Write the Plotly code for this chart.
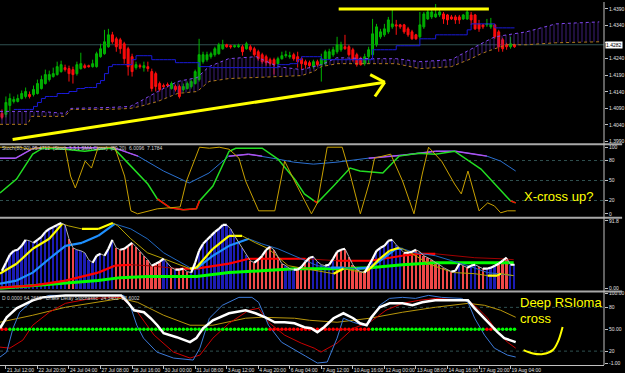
import plotly.graph_objects as go

# ---------------- DATA ----------------
opens = [1.4075,1.4072,1.4099,1.4111,1.4111,1.4120,1.4126,1.4132,1.4132,1.4135,
1.4150,1.4165,1.4177,1.4186,1.4192,1.4201,1.4213,1.4210,1.4207,1.4195,
1.4210,1.4219,1.4219,1.4216,1.4216,1.4246,1.4255,1.4276,1.4312,1.4300,
1.4297,1.4285,1.4270,1.4246,1.4213,1.4219,1.4213,1.4216,1.4201,1.4195,
1.4165,1.4159,1.4162,1.4150,1.4156,1.4156,1.4147,1.4150,1.4156,1.4165,
1.4177,1.4231,1.4237,1.4246,1.4252,1.4255,1.4270,1.4282,1.4279,1.4276,
1.4276,1.4276,1.4270,1.4276,1.4270,1.4261,1.4252,1.4246,1.4237,1.4237,
1.4225,1.4240,1.4249,1.4246,1.4252,1.4246,1.4240,1.4231,1.4228,1.4216,
1.4231,1.4222,1.4225,1.4240,1.4252,1.4261,1.4267,1.4276,1.4276,1.4267,
1.4252,1.4240,1.4225,1.4246,1.4252,1.4282,1.4306,1.4312,1.4321,1.4336,
1.4342,1.4342,1.4342,1.4330,1.4321,1.4312,1.4306,1.4336,1.4360,1.4366,
1.4366,1.4372,1.4375,1.4372,1.4366,1.4366,1.4366,1.4360,1.4360,1.4372,
1.4372,1.4345,1.4342,1.4342,1.4336,1.4342,1.4321,1.4297,1.4282,1.4276,
1.4282]
highs = [1.4087,1.4126,1.4135,1.4126,1.4132,1.4144,1.4153,1.4141,1.4159,1.4177,
1.4189,1.4207,1.4204,1.4213,1.4231,1.4234,1.4222,1.4219,1.4216,1.4231,
1.4258,1.4225,1.4222,1.4237,1.4261,1.4285,1.4327,1.4330,1.4321,1.4306,
1.4303,1.4291,1.4276,1.4255,1.4231,1.4225,1.4231,1.4231,1.4210,1.4201,
1.4171,1.4165,1.4168,1.4171,1.4162,1.4162,1.4165,1.4171,1.4177,1.4207,
1.4300,1.4261,1.4261,1.4261,1.4276,1.4288,1.4297,1.4285,1.4282,1.4282,
1.4285,1.4282,1.4291,1.4282,1.4276,1.4267,1.4258,1.4252,1.4243,1.4243,
1.4246,1.4261,1.4264,1.4261,1.4258,1.4261,1.4246,1.4237,1.4234,1.4237,
1.4237,1.4255,1.4267,1.4270,1.4276,1.4306,1.4291,1.4312,1.4282,1.4273,
1.4258,1.4246,1.4255,1.4276,1.4360,1.4345,1.4330,1.4345,1.4366,1.4387,
1.4357,1.4345,1.4345,1.4336,1.4327,1.4315,1.4381,1.4381,1.4387,1.4387,
1.4405,1.4387,1.4381,1.4375,1.4372,1.4372,1.4372,1.4375,1.4387,1.4381,
1.4375,1.4357,1.4345,1.4360,1.4363,1.4345,1.4327,1.4303,1.4288,1.4306,
1.4285]
lows = [1.4057,1.4063,1.4081,1.4105,1.4108,1.4117,1.4120,1.4120,1.4126,1.4132,
1.4147,1.4162,1.4171,1.4183,1.4189,1.4198,1.4201,1.4171,1.4165,1.4189,
1.4207,1.4210,1.4213,1.4213,1.4213,1.4243,1.4252,1.4273,1.4285,1.4261,
1.4255,1.4225,1.4189,1.4186,1.4207,1.4210,1.4201,1.4201,1.4141,1.4141,
1.4141,1.4150,1.4153,1.4147,1.4141,1.4120,1.4141,1.4147,1.4150,1.4162,
1.4171,1.4225,1.4231,1.4240,1.4246,1.4252,1.4267,1.4273,1.4270,1.4273,
1.4273,1.4249,1.4267,1.4261,1.4246,1.4234,1.4225,1.4219,1.4219,1.4192,
1.4219,1.4237,1.4243,1.4240,1.4234,1.4213,1.4207,1.4210,1.4213,1.4210,
1.4216,1.4171,1.4219,1.4237,1.4246,1.4255,1.4261,1.4267,1.4246,1.4231,
1.4216,1.4219,1.4219,1.4225,1.4246,1.4276,1.4300,1.4306,1.4315,1.4330,
1.4312,1.4330,1.4315,1.4306,1.4297,1.4297,1.4300,1.4330,1.4357,1.4360,
1.4363,1.4366,1.4345,1.4342,1.4357,1.4345,1.4345,1.4357,1.4357,1.4342,
1.4327,1.4321,1.4330,1.4336,1.4330,1.4300,1.4261,1.4261,1.4267,1.4270,
1.4273]
closes = [1.4063,1.4108,1.4120,1.4117,1.4120,1.4135,1.4141,1.4126,1.4147,1.4165,
1.4177,1.4192,1.4192,1.4195,1.4216,1.4222,1.4207,1.4195,1.4192,1.4222,
1.4225,1.4213,1.4216,1.4225,1.4255,1.4270,1.4291,1.4312,1.4291,1.4276,
1.4270,1.4240,1.4216,1.4201,1.4222,1.4216,1.4219,1.4210,1.4150,1.4156,
1.4147,1.4156,1.4159,1.4165,1.4147,1.4126,1.4156,1.4165,1.4171,1.4201,
1.4252,1.4252,1.4252,1.4255,1.4270,1.4282,1.4282,1.4276,1.4276,1.4279,
1.4279,1.4261,1.4285,1.4267,1.4252,1.4240,1.4231,1.4228,1.4225,1.4222,
1.4240,1.4249,1.4252,1.4249,1.4240,1.4231,1.4225,1.4222,1.4219,1.4231,
1.4222,1.4240,1.4261,1.4261,1.4267,1.4282,1.4282,1.4270,1.4252,1.4237,
1.4222,1.4222,1.4246,1.4267,1.4315,1.4336,1.4321,1.4330,1.4357,1.4345,
1.4339,1.4336,1.4321,1.4312,1.4300,1.4300,1.4342,1.4375,1.4381,1.4381,
1.4375,1.4381,1.4360,1.4357,1.4360,1.4357,1.4357,1.4372,1.4381,1.4357,
1.4330,1.4330,1.4336,1.4345,1.4345,1.4306,1.4276,1.4270,1.4276,1.4285,
1.4276]
kijun = [None,None,None,1.4087,1.4087,1.4087,1.4087,1.4087,1.4096,1.4108,
1.4120,1.4126,1.4126,1.4126,1.4135,1.4135,1.4135,1.4141,1.4141,1.4150,
1.4150,1.4153,1.4153,1.4153,1.4165,1.4174,1.4195,1.4216,1.4222,1.4222,
1.4222,1.4222,1.4222,1.4237,1.4249,1.4249,1.4249,1.4249,1.4237,1.4237,
1.4237,1.4237,1.4237,1.4237,1.4228,1.4228,1.4228,1.4228,1.4228,1.4228,
1.4216,1.4216,1.4216,1.4213,1.4213,1.4213,1.4213,1.4213,1.4213,1.4213,
1.4213,1.4213,1.4213,1.4213,1.4213,1.4213,1.4213,1.4213,1.4213,1.4213,
1.4222,1.4222,1.4222,1.4225,1.4225,1.4237,1.4246,1.4246,1.4246,1.4246,
1.4246,1.4237,1.4237,1.4237,1.4237,1.4237,1.4237,1.4237,1.4237,1.4237,
1.4237,1.4237,1.4237,1.4237,1.4267,1.4267,1.4267,1.4267,1.4267,1.4267,
1.4279,1.4279,1.4279,1.4279,1.4279,1.4279,1.4300,1.4300,1.4300,1.4300,
1.4312,1.4312,1.4312,1.4312,1.4312,1.4312,1.4312,1.4312,1.4327,1.4345,
1.4345,1.4345,1.4345,1.4345,1.4345,1.4333,1.4333,1.4333,1.4333,1.4333,
1.4333]
current_price = 1.4282

cloud_x = [-0.5,3,6.5,7.5,9.5,16,17.5,27.5,32.5,35,39.5,44.5,49.5,52.5,57.5,64.5,
           70,76,79,81,85,93.5,100,106,114,119,121.5,125,128,133,140.5,151.5]
senkou_a = [1.4081,1.4081,1.4081,1.4081,1.4081,1.4075,1.4090,1.4093,1.4096,1.4111,
            1.4141,1.4171,1.4183,1.4216,1.4240,1.4246,1.4216,1.4207,1.4216,1.4222,
            1.4243,1.4240,1.4240,1.4231,1.4237,1.4270,1.4285,1.4306,1.4312,1.4321,
            1.4345,1.4351]
senkou_b = [1.4042,1.4042,1.4042,1.4066,1.4066,1.4066,1.4087,1.4087,1.4090,1.4096,
            1.4111,1.4135,1.4141,1.4171,1.4180,1.4183,1.4186,1.4189,1.4201,1.4216,
            1.4225,1.4225,1.4225,1.4210,1.4216,1.4240,1.4255,1.4270,1.4282,1.4282,
            1.4288,1.4291]
price_ticks = [1.4390,1.4340,1.4290,1.4240,1.4190,1.4140,1.4090,1.4040,1.3990]

date_ticks = [1,9,17,25,33,41,49,57,65,73,81,89,97,105,113,121,129]
date_labels = ["21 Jul 12:00","22 Jul 20:00","24 Jul 04:00","27 Jul 08:00","28 Jul 16:00",
               "30 Jul 00:00","31 Jul 08:00","3 Aug 12:00","4 Aug 20:00","6 Aug 04:00",
               "7 Aug 12:00","10 Aug 16:00","12 Aug 00:00","13 Aug 08:00","14 Aug 16:00",
               "17 Aug 20:00","19 Aug 04:00"]

# panel 2 (stochastic)
slow_x = [-0.5,3.5,8,12,28.5,34.5,41,47.5,52.5,57.5,62.5,66,70,74,79,85,93,101.5,110,115,120,123,126.5,130.3]
slow_v = [83.6,83.6,98.5,99.0,99.0,86.6,64.2,46.3,61.2,86.6,89.6,86.6,82.1,77.6,74.6,77.6,83.6,88.1,94.0,94.0,89.6,86.6,79.1,64.2]
fast_x = [-0.5,3.7,7.8,10.3,16,21,27,28.6,32.7,37,39.4,42.7,46,49.3,50.1,53.5,57.6,59.3,66,70,74.2,
          76.7,79.2,80,84.1,88.3,90.8,96.6,100.7,105.7,109.9,114.8,121.5,126.5,129,130.3]
fast_v = [31.3,52.2,89.6,98.5,97.0,94.0,98.5,97.0,71.6,44.8,22.4,9.0,6.0,7.5,19.4,41.8,94.0,98.5,98.5,82.1,52.2,
          29.9,19.4,16.4,41.8,68.7,64.2,61.2,86.6,91.0,89.6,94.0,67.2,34.3,19.4,16.4]
stoch_x = [-0.5,4.5,7,10.3,16,17.4,18.6,21.1,22.7,24.4,28.6,31.1,32.7,34.4,39.4,42.7,45.2,46.8,50.1,52.6,
           55.1,57.6,60.1,61.8,65.1,69.2,71.7,74.2,77.6,78.5,80,82.5,86.3,88.3,90.9,93.3,94.5,98.6,101.6,104.5,
           106.6,108.2,111.5,114.8,116.5,118.2,121,123.2,124.9,126.5,128.2,130.3]
stoch_v = [100,100,97.0,100,100,56.7,38.8,79.1,68.7,100,100,56.7,4.5,0,7.5,9.0,10.4,49.3,100,98.5,
           100,97.0,83.6,49.3,4.5,4.5,79.1,49.3,9.0,0,16.4,100,100,59.7,0,49.3,83.6,89.6,49.3,0,
           59.7,100,79.1,44.8,29.9,64.2,4.5,16.4,11.9,1.5,4.5,4.5]
p2_levels = [80, 50, 20]

# panel 3 (histogram + averages)
hist3 = [24.2,35.0,45.8,51.2,52.5,57.9,66.0,64.7,62.0,66.0,
70.0,76.8,80.8,83.5,86.2,88.9,86.2,67.4,55.2,52.5,
51.2,48.5,39.1,35.0,44.5,47.1,44.5,53.9,66.0,55.2,
52.5,53.9,57.9,62.0,56.6,49.8,44.5,39.1,31.0,33.7,
36.4,40.4,35.0,28.3,25.6,25.6,26.9,22.9,21.6,35.0,
51.2,60.6,66.0,71.4,76.8,80.8,86.2,86.2,80.8,71.4,
63.3,55.2,45.8,37.7,35.0,39.1,44.5,52.5,56.6,52.5,
43.1,33.7,31.0,26.9,25.6,25.6,29.6,36.4,41.8,43.1,
36.4,32.3,31.0,32.3,40.4,49.8,52.5,53.9,43.1,32.3,
25.6,22.9,21.6,31.0,40.4,51.2,55.2,57.9,64.7,66.0,
59.3,53.9,48.5,48.5,49.8,52.5,49.8,44.5,41.8,39.1,
35.0,32.3,28.3,25.6,22.9,24.2,33.7,31.0,28.3,31.0,
32.3,29.6,26.9,26.9,28.3,31.0,33.7,37.7,41.8,32.3,
32.3]
hist_runs = [("b",17),("r",2),("b",10),("r",12),("b",2),("r",1),("b",1),("r",3),("b",15),("r",9),
             ("b",3),("r",4),("b",6),("r",9),("b",8),("r",13),("b",2),("r",2),("b",2),("r",2),
             ("b",3),("r",3),("b",2)]
yel3_x = [-0.5,3.7,7.8,12,15.3,16.9,20.3,24.4,28.1,29.4,32.7,36.9,41,47.7,49.3,53.5,57.6,60.9,64.3,67.6,
          72.6,76.7,79.2,81.7,84.1,86.6,89.1,91.6,93.3,95.8,98.3,100.7,101.6,104.9,108.2,111.5,114.8,119.8,
          123.2,125.6,126.5,129.8]
yel3_v = [20.2,33.7,53.9,67.4,87.6,84.9,80.8,80.8,88.9,84.9,67.4,48.5,40.4,26.9,28.3,53.9,71.4,71.4,62.0,53.9,
          31.0,26.9,24.2,21.6,20.2,26.9,24.2,21.6,26.9,40.4,51.2,55.2,53.9,44.5,33.7,26.9,21.6,20.2,
          17.5,17.5,20.2,17.5]
blu3_x = [-0.5,3.7,7.8,12,16.1,20.3,24.4,28.6,32.7,36.9,41,47.7,49.3,53.5,57.6,62.6,65.9,70,74.2,77,
          80,83.4,86.7,90,93.3,96.6,99.9,101.6,104.9,109.9,114.1,118.2,123.2,129.8]
blu3_v = [6.7,10.8,21.6,40.4,57.9,62.0,71.4,87.6,80.8,67.4,48.5,28.3,26.9,44.5,57.9,67.4,60.6,53.9,44.5,37.7,
          31.0,28.3,28.3,26.9,28.3,40.4,53.9,53.9,48.5,44.5,37.7,31.0,21.6,17.5]
red3_x = [-0.5,7.8,16.1,24.4,28.6,32.7,36.9,45.2,49.3,57.6,62.6,70,77,85,93.3,101.6,105.7,109.9,114.1,119.9,126.5,129.8]
red3_v = [1.3,4.0,10.8,21.6,31.0,32.3,31.0,26.9,26.9,33.7,40.4,40.4,40.4,37.7,37.7,44.5,47.1,47.1,44.5,41.8,40.4,39.1]
grn3_x = [-0.5,7.8,16.1,24.4,30,36.9,49.3,57.6,65.9,74.2,79.2,85,93.3,101.6,109.9,118.2,129.8]
grn3_v = [0.5,4.0,6.7,10.8,14.8,16.2,16.2,21.6,24.2,26.9,26.9,26.9,28.3,32.3,35.0,35.0,35.0]

# panel 4 (Drake delay stochastic / RSIoma)
wht4_x = [-0.5,1.2,3.7,6.1,7.8,10.3,16.1,24.4,30.2,31.9,33.5,36,37.7,39.4,41,44.3,47.7,49.3,51,53.5,
          57.6,61.8,64.3,66.8,69.2,71.7,74.2,76.7,78.4,80,81.7,84.1,86.6,89.1,90.8,92.5,93.7,95.8,98.3,101.6,
          104.1,106.6,109.9,114.1,118.2,119.9,122,124,125.7,127.4,130.3]
wht4_v = [51.4,66.4,78.7,85.5,89.6,93.7,96.4,96.4,96.4,86.9,76.0,73.3,65.1,55.5,44.6,39.1,32.3,37.8,51.4,62.3,
          71.9,76.0,71.9,66.4,59.6,59.6,58.2,52.8,51.4,46.0,52.8,65.1,71.9,65.1,58.2,55.5,66.4,80.1,85.5,85.5,
          82.8,86.9,89.6,89.6,89.6,78.7,66.4,55.5,46.0,37.8,32.3]
blu4_x = [-0.5,1.2,2.8,4.5,7.8,12,30.9,32.5,34.2,35.9,39.3,43.5,48.5,50.2,52.6,55.9,60.1,63.4,65.1,67.6,
          70.9,74.2,77,80,82.5,85,86.6,89.1,91.6,93.3,95.8,98.3,101.6,104.9,108.2,111.5,116.6,118.2,119.9,122.4,
          124.9,128.2,130.3]
blu4_v = [11.9,18.7,51.4,73.3,89.6,96.4,96.4,82.8,55.5,37.8,18.7,10.5,7.8,24.1,65.1,82.8,93.7,93.7,86.9,55.5,
          32.3,21.4,13.2,3.7,5.1,37.8,65.1,59.6,55.5,59.6,82.8,92.3,93.7,92.3,96.4,93.7,92.3,86.9,65.1,41.9,
          24.1,14.6,11.9]
red4_x = [-0.5,2,5.3,7.8,12,16.1,22.7,30.2,34.4,38.6,43.5,47.7,50.2,53.5,57.6,62.6,65.1,67.6,71.7,75.9,
          79.2,80.9,85,89.1,93.3,97.4,101.6,105.7,109.9,114.1,118.2,120.7,123.2,125.7,128.2,130.3]
red4_v = [25.5,24.1,35.1,55.5,73.3,85.5,92.3,93.7,73.3,41.9,18.7,10.5,14.6,37.8,58.2,76.0,78.7,59.6,41.9,31.0,
          24.1,18.7,31.0,51.4,59.6,76.0,85.5,89.6,92.3,91.0,89.6,78.7,65.1,46.0,32.3,24.1]
gld4_x = [-0.5,7.8,16.1,24.4,30.2,34.4,41,47.7,53.5,61.8,65.9,74.2,78,85,93.3,101.6,109.9,118.2,122.4,126.5,130.3]
gld4_v = [59.6,69.2,80.1,86.9,92.3,86.9,69.2,55.5,55.5,65.1,66.4,65.1,62.3,59.6,65.1,73.3,80.1,85.5,82.8,76.0,66.4]
dot_level = 50
dot_runs = [("r",2),("g",66),("r",26),("g",29),("r",2),("g",6)]
p4_levels = [80, 20]
sketch_x = [132.3,134.7,137.2,139.7,141.0,142.2]
sketch_v = [21.4,16.9,16.0,21.4,32.7,53.2]

# hand-drawn yellow marks on price panel (bar index, price)
top_line = dict(x0=85.4, x1=123.5, y=1.4390)
arrow_tail = (2.7, 1.3996)
arrow_tip = (97.1, 1.4169)
arrow_head = [(93.4, 1.4192), (94.6, 1.4126)]

# ---------------- HELPERS ----------------
def segments(xs, vs, cond):
    ox, oy = [], []
    for k in range(len(vs) - 1):
        if cond(vs[k], vs[k + 1]):
            ox += [xs[k], xs[k + 1], None]
            oy += [vs[k], vs[k + 1], None]
    return ox, oy

def expand(runs, cmap):
    out = []
    for c, n in runs:
        out += [cmap[c]] * n
    return out

bars = list(range(len(opens)))
FONT = "Liberation Sans"
fig = go.Figure()

def line(x, y, color, width, yaxis, dash=None, shape="linear"):
    fig.add_trace(go.Scatter(x=x, y=y, mode="lines", yaxis=yaxis, xaxis="x",
                             line=dict(color=color, width=width, dash=dash, shape=shape),
                             hoverinfo="skip", connectgaps=False))

rising = lambda a, b: b >= a

# ---- main panel ----
line(cloud_x, senkou_b, "#b07a1a", 1, "y", dash="dot")
fig.add_trace(go.Scatter(x=cloud_x, y=senkou_a, mode="lines", yaxis="y", xaxis="x", fill="tonexty",
                         fillcolor="rgba(0,0,0,0)",
                         fillpattern=dict(shape="|", fgcolor="#6632c8", bgcolor="rgba(0,0,0,0)",
                                          size=4, solidity=0.3),
                         line=dict(color="#8048f0", width=1, dash="dot"), hoverinfo="skip"))
fig.add_trace(go.Candlestick(x=bars, open=opens, high=highs, low=lows, close=closes,
                             xaxis="x", yaxis="y", whiskerwidth=0,
                             increasing=dict(line=dict(color="#00b400", width=1), fillcolor="#00a800"),
                             decreasing=dict(line=dict(color="#ff1010", width=1), fillcolor="#ff0000"),
                             hoverinfo="skip"))
line(bars, kijun, "#1a1ad8", 1, "y", shape="hv")

# ---- panel 2 ----
line(slow_x, slow_v, "#2a70d0", 1, "y2")
sx, sy = segments(slow_x, slow_v, lambda a, b: min(a, b) >= 83)
line(sx, sy, "#b050f0", 1.5, "y2")
line(fast_x, fast_v, "#22dd22", 1.5, "y2")
fx, fy = segments(fast_x, fast_v, lambda a, b: max(a, b) <= 22.5)
line(fx, fy, "#ff0000", 1.5, "y2")
line(stoch_x, stoch_v, "#c8a000", 1, "y2")

# ---- panel 3 ----
fig.add_trace(go.Bar(x=bars, y=hist3, yaxis="y3", xaxis="x", width=0.45,
                     marker=dict(color=expand(hist_runs, {"b": "#1c1cb4", "r": "#f04848"}),
                                 line=dict(width=0)), hoverinfo="skip"))
line(grn3_x, grn3_v, "#00ff00", 3, "y3")
line(red3_x, red3_v, "#a00000", 1, "y3")
rx, ry = segments(red3_x, red3_v, rising)
line(rx, ry, "#ff0000", 2.2, "y3")
line(blu3_x, blu3_v, "#2068c0", 1, "y3")
bx, by = segments(blu3_x, blu3_v, rising)
line(bx, by, "#1e90ff", 2.2, "y3")
line(yel3_x, yel3_v, "#b4a000", 1, "y3")
yx, yy = segments(yel3_x, yel3_v, rising)
line(yx, yy, "#ffff00", 2.2, "y3")
line(bars, hist3, "#b0b0b0", 1, "y3")
wx, wy = segments(bars, hist3, rising)
line(wx, wy, "#ffffff", 2.2, "y3")

# ---- panel 4 ----
line(gld4_x, gld4_v, "#b8960b", 1, "y4")
line(red4_x, red4_v, "#cc0000", 1, "y4")
line(blu4_x, blu4_v, "#3c7ad8", 1, "y4")
fig.add_trace(go.Scatter(x=bars, y=[dot_level] * len(bars), mode="markers", yaxis="y4", xaxis="x",
                         marker=dict(size=3.5, color=expand(dot_runs, {"g": "#00ff00", "r": "#ff0000"})),
                         hoverinfo="skip"))
line(wht4_x, wht4_v, "#ffffff", 2.5, "y4")
fig.add_trace(go.Scatter(x=sketch_x, y=sketch_v, mode="lines", yaxis="y4", xaxis="x",
                         line=dict(color="#ffff00", width=2, shape="spline"), hoverinfo="skip"))

# ---------------- SHAPES ----------------
shapes = []
shapes.append(dict(type="line", xref="paper", yref="y", x0=0, x1=1, y0=current_price, y1=current_price,
                   line=dict(color="#2f5050", width=1), layer="below"))
for lv in p2_levels:
    shapes.append(dict(type="line", xref="paper", yref="y2", x0=0, x1=1, y0=lv, y1=lv,
                       line=dict(color="#2f5050", width=1, dash="dot"), layer="below"))
for lv in p4_levels:
    shapes.append(dict(type="line", xref="paper", yref="y4", x0=0, x1=1, y0=lv, y1=lv,
                       line=dict(color="#2f5050", width=1, dash="dot"), layer="below"))
Y = dict(color="#ffff00", width=3)
shapes.append(dict(type="line", xref="x", yref="y", x0=top_line["x0"], x1=top_line["x1"],
                   y0=top_line["y"], y1=top_line["y"], line=Y))
shapes.append(dict(type="line", xref="x", yref="y", x0=arrow_tail[0], y0=arrow_tail[1],
                   x1=arrow_tip[0], y1=arrow_tip[1], line=Y))
for hx, hy in arrow_head:
    shapes.append(dict(type="line", xref="x", yref="y", x0=hx, y0=hy, x1=arrow_tip[0], y1=arrow_tip[1], line=Y))
H = 365.0
for p in (143, 217, 291):
    shapes.append(dict(type="line", xref="paper", yref="paper", x0=0, x1=1.03, y0=1 - p / H, y1=1 - p / H,
                       line=dict(color="#a8a8a8", width=2)))
shapes.append(dict(type="line", xref="paper", yref="paper", x0=1, x1=1, y0=0, y1=1,
                   line=dict(color="#c0c0c0", width=1)))

# ---------------- ANNOTATIONS ----------------
ann = [
    dict(text="X-cross up?", xref="x", yref="y2", x=141.2, y=25.4, showarrow=False,
         font=dict(family=FONT, size=13, color="#ffff00")),
    dict(text="Deep RSIoma", xref="x", yref="y4", x=130.8, y=87.3, xanchor="left", showarrow=False,
         font=dict(family=FONT, size=13, color="#ffff00")),
    dict(text="cross", xref="x", yref="y4", x=130.8, y=65.1, xanchor="left", showarrow=False,
         font=dict(family=FONT, size=13, color="#ffff00")),
    dict(text="Stoch(80,20) 95.4712  (Stoch 3,3,1 SMA Close)  (80,20)  6.0096  7.1784", xref="paper", yref="y2",
         x=0, y=99, xanchor="left", yanchor="middle", showarrow=False,
         font=dict(family=FONT, size=5, color="#d0d0d0")),
    dict(text="D 0.0000 64.2669   Drake Delay Stochastic  24.3402  23.6002", xref="paper", yref="y4",
         x=0, y=93, xanchor="left", yanchor="middle", showarrow=False,
         font=dict(family=FONT, size=5, color="#d0d0d0")),
    dict(text="%.4f" % current_price, xref="paper", yref="y", x=1.002, y=current_price, xanchor="left",
         showarrow=False, bgcolor="#ffffff", borderpad=0, font=dict(family=FONT, size=5, color="#000000")),
]

tickfont = dict(family=FONT, size=5, color="#e0e0e0")
yax = dict(side="right", anchor="x", showgrid=False, zeroline=False, showline=False, ticks="outside",
           ticklen=3, tickcolor="#c0c0c0", tickfont=tickfont, fixedrange=True)
# the current-price box takes the place of the nearby tick label, as in the terminal
price_text = ["" if abs(v - current_price) < 0.0015 else "%.4f" % v for v in price_ticks]

fig.update_layout(
    width=625, height=373, margin=dict(l=0, r=10, t=0, b=8, pad=0),
    paper_bgcolor="#000000", plot_bgcolor="#000000", showlegend=False, hovermode=False,
    shapes=shapes, annotations=ann, bargap=0,
    xaxis=dict(domain=[0, 1], range=[-0.5, 152.7], anchor="y4", showgrid=False, zeroline=False,
               showline=True, linecolor="#c0c0c0", linewidth=1, ticks="outside", ticklen=3,
               tickcolor="#c0c0c0", tickvals=date_ticks, ticktext=date_labels, tickangle=0,
               ticklabelposition="outside right", tickfont=tickfont,
               rangeslider=dict(visible=False), fixedrange=True),
    yaxis=dict(domain=[1 - 142 / H, 1], range=[1.3985, 1.4411], tickvals=price_ticks,
               ticktext=price_text, **yax),
    yaxis2=dict(domain=[1 - 216 / H, 1 - 144 / H], range=[-4.5, 103], tickvals=[100, 80, 50, 20, 0],
                ticktext=["100", "80", "50", "20", "0"], **yax),
    yaxis3=dict(domain=[1 - 290 / H, 1 - 218 / H], range=[-2.5, 94.5], tickvals=[91.8, 0],
                ticktext=["91.8", "0.00"], **yax),
    yaxis4=dict(domain=[0, 1 - 292 / H], range=[1.0, 100.5], tickvals=[99, 80, 50, 20, 3],
                ticktext=["100.00", "80", "50.00", "20", "-1.00"], **yax),
)

fig.write_html("out.html")
